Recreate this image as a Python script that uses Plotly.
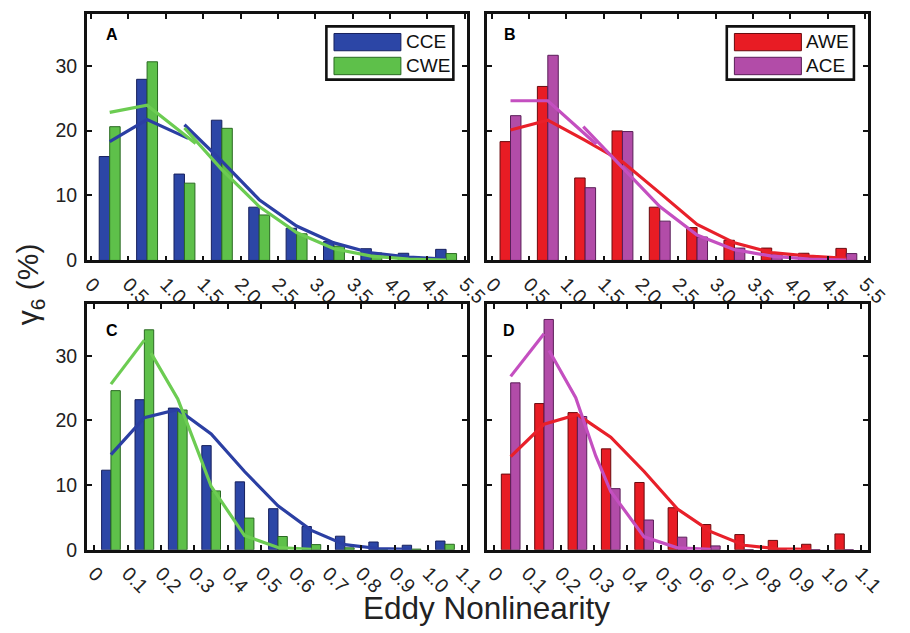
import plotly.graph_objects as go

# ---------------------------------------------------------------- data
# Tick labels at the bin edges (index 0..n)
ab_tick_labels = ["0", "0.5", "1.0", "1.5", "2.0", "2.5", "3.0", "3.5", "4.0", "4.5", "5.5"]
cd_tick_labels = ["0", "0.1", "0.2", "0.3", "0.4", "0.5", "0.6", "0.7", "0.8", "0.9", "1.0", "1.1"]

# Histogram percentages per bin
cce_a = [16.0, 27.9, 13.3, 21.6, 8.2, 4.95, 2.9, 1.8, 1.1, 1.7]
cwe_a = [20.6, 30.6, 11.9, 20.35, 7.0, 4.1, 2.2, 1.15, 0.6, 1.05]
awe_b = [18.3, 26.8, 12.7, 19.95, 8.2, 5.05, 3.1, 1.9, 1.1, 1.85]
ace_b = [22.3, 31.6, 11.2, 19.85, 6.05, 3.6, 1.9, 1.15, 0.65, 1.05]
cce_c = [12.3, 23.2, 21.9, 16.1, 10.5, 6.35, 3.6, 2.1, 1.2, 0.7, 1.35]
cwe_c = [24.6, 34.0, 21.6, 9.1, 4.9, 2.05, 0.8, 0.3, 0.1, 0.1, 0.85]
awe_d = [11.7, 22.6, 21.2, 15.6, 10.4, 6.5, 3.9, 2.35, 1.45, 0.85, 2.45]
ace_d = [25.8, 35.6, 20.6, 9.45, 4.6, 1.95, 0.6, 0.0, 0.0, 0.0, 0.0]

# Fitted distribution curves (bin-index coordinate, None separates pieces)
fit_cce_a_x = [0.5, 1.5, 2.6, None, 2.5, 3.5, 4.5, 5.5, 6.5, 7.5, 8.5, 9.5]
fit_cce_a_y = [18.3, 21.7, 18.8, None, 20.9, 15.3, 9.35, 5.3, 2.7, 1.15, 0.5, 0.2]
fit_cwe_a_x = [0.5, 1.5, 2.8, None, 2.5, 3.5, 4.5, 5.5, 6.5, 7.5, 8.5, 9.5]
fit_cwe_a_y = [22.8, 23.9, 18.0, None, 20.4, 14.0, 8.3, 4.3, 1.8, 0.65, 0.2, 0.05]
fit_awe_b_x = [0.5, 1.5, 2.5, 3.5, 4.5, 5.5, 6.5, 7.5, 8.5, 9.5]
fit_awe_b_y = [20.1, 21.6, 18.5, 15.2, 10.4, 5.55, 2.7, 1.2, 0.65, 0.3]
fit_ace_b_x = [0.5, 1.5, 2.8, None, 2.45, 3.5, 4.5, 5.5, 6.5, 7.5, 8.5, 9.5]
fit_ace_b_y = [24.6, 24.6, 17.9, None, 20.6, 14.3, 8.3, 3.9, 1.65, 0.65, 0.2, 0.05]
fit_cce_c_x = [0.5, 1.5, 2.5, 3.5, 4.5, 5.5, 6.5, 7.5, 8.5, 9.5]
fit_cce_c_y = [14.7, 20.4, 21.7, 17.9, 12.1, 6.8, 3.0, 0.8, 0.2, 0.05]
fit_cwe_c_x = [0.5, 1.5, None, 1.7, 2.5, 3.15, 3.5, 4.5, 5.5, 6.5]
fit_cwe_c_y = [25.6, 32.4, None, 30.4, 23.3, 14.6, 9.8, 2.2, 0.35, 0.05]
fit_awe_d_x = [0.5, 1.5, 2.5, 3.5, 4.5, 5.5, 6.5, 7.5, 8.5, 9.5]
fit_awe_d_y = [14.4, 19.4, 20.9, 17.4, 12.1, 6.3, 2.8, 0.7, 0.15, 0.05]
fit_ace_d_x = [0.5, 1.5, None, 1.65, 2.45, 3.05, 3.5, 4.5, 5.5, 6.5]
fit_ace_d_y = [26.8, 33.4, None, 30.8, 23.5, 14.5, 9.0, 2.0, 0.3, 0.05]

y_ticks = [0, 10, 20, 30]

# ---------------------------------------------------------------- styles
BLUE, BLUE_EDGE, BLUE_LINE = "#2c46a6", "#17215e", "#2b3fa3"
GREEN, GREEN_EDGE, GREEN_LINE = "#5ec04a", "#2a6a22", "#6ccc52"
RED, RED_EDGE, RED_LINE = "#e81c24", "#6a0a0e", "#e8202a"
PURPLE, PURPLE_EDGE, PURPLE_LINE = "#b24ca8", "#5a1e58", "#c44fc0"

FONT = "Liberation Sans, Arial, Helvetica, sans-serif"
W, H = 910, 633


def fx(px):
    return px / W


def fy(py):
    return 1 - py / H


panels = [
    dict(ax="", letter="A", labels=ab_tick_labels, xrange=[-0.11, 10.06],
         dom_x=[84.5, 476.7], dom_y=[14, 265], show_y=True,
         series=[("CCE", cce_a, BLUE, BLUE_EDGE), ("CWE", cwe_a, GREEN, GREEN_EDGE)],
         fits=[(fit_cce_a_x, fit_cce_a_y, BLUE_LINE), (fit_cwe_a_x, fit_cwe_a_y, GREEN_LINE)],
         legend=True, letter_pos=(0.044, 0.916)),
    dict(ax="2", letter="B", labels=ab_tick_labels, xrange=[-0.13, 10.07],
         dom_x=[497.3, 890], dom_y=[14, 265], show_y=False,
         series=[("AWE", awe_b, RED, RED_EDGE), ("ACE", ace_b, PURPLE, PURPLE_EDGE)],
         fits=[(fit_awe_b_x, fit_awe_b_y, RED_LINE), (fit_ace_b_x, fit_ace_b_y, PURPLE_LINE)],
         legend=True, letter_pos=(0.039, 0.916)),
    dict(ax="3", letter="C", labels=cd_tick_labels, xrange=[-0.22, 11.16],
         dom_x=[84.5, 476.7], dom_y=[309.3, 559.5], show_y=True,
         series=[("CCE", cce_c, BLUE, BLUE_EDGE), ("CWE", cwe_c, GREEN, GREEN_EDGE)],
         fits=[(fit_cce_c_x, fit_cce_c_y, BLUE_LINE), (fit_cwe_c_x, fit_cwe_c_y, GREEN_LINE)],
         legend=False, letter_pos=(0.046, 0.893)),
    dict(ax="4", letter="D", labels=cd_tick_labels, xrange=[-0.21, 11.2],
         dom_x=[497.3, 890], dom_y=[309.3, 559.5], show_y=False,
         series=[("AWE", awe_d, RED, RED_EDGE), ("ACE", ace_d, PURPLE, PURPLE_EDGE)],
         fits=[(fit_awe_d_x, fit_awe_d_y, RED_LINE), (fit_ace_d_x, fit_ace_d_y, PURPLE_LINE)],
         legend=False, letter_pos=(0.037, 0.893)),
]

BAR_W = 0.28

fig = go.Figure()
shapes = []
annotations = []
layout_axes = {}

for p in panels:
    xa, ya = "x" + p["ax"], "y" + p["ax"]
    for k, (name, vals, fill, edge) in enumerate(p["series"]):
        fig.add_trace(go.Bar(
            x=[i + 0.5 for i in range(len(vals))], y=vals, name=name,
            width=BAR_W, offset=-BAR_W if k == 0 else 0.0,
            marker=dict(color=fill, line=dict(color=edge, width=1)),
            xaxis=xa, yaxis=ya, showlegend=False))
    for fxs, fys, col in p["fits"]:
        fig.add_trace(go.Scatter(
            x=fxs, y=fys, mode="lines", line=dict(color=col, width=3.2),
            connectgaps=False, xaxis=xa, yaxis=ya, showlegend=False))

    common = dict(showline=True, linewidth=2.6, linecolor="#111111", mirror="ticks",
                  ticks="inside", ticklen=5, tickwidth=2, tickcolor="#111111",
                  showgrid=False, zeroline=False,
                  tickfont=dict(family=FONT, size=19.5, color="#222222"))
    layout_axes["xaxis" + p["ax"]] = dict(
        common, domain=[fx(p["dom_x"][0]), fx(p["dom_x"][1])], range=p["xrange"],
        anchor=ya, tickvals=list(range(len(p["labels"]))), ticktext=p["labels"],
        tickangle=45, ticklabelstandoff=2)
    layout_axes["yaxis" + p["ax"]] = dict(
        common, domain=[fy(p["dom_y"][1]), fy(p["dom_y"][0])], range=[0, 38],
        anchor=xa, tickvals=y_ticks, showticklabels=p["show_y"], ticklabelstandoff=3)

    xd, yd = xa + " domain", ya + " domain"
    annotations.append(dict(
        text="<b>" + p["letter"] + "</b>", x=p["letter_pos"][0], y=p["letter_pos"][1],
        xref=xd, yref=yd, xanchor="left", yanchor="middle", showarrow=False,
        font=dict(family=FONT, size=16, color="#000000")))

    if p["legend"]:
        shapes.append(dict(type="rect", xref=xd, yref=yd, x0=0.630, x1=0.964,
                           y0=0.733, y1=0.949, fillcolor="white",
                           line=dict(color="#111111", width=2.6), layer="above"))
        rows = [(0.850, 0.920, 0.886), (0.753, 0.8235, 0.789)]
        for (name, vals, fill, edge), (y0, y1, yt) in zip(p["series"], rows):
            shapes.append(dict(type="rect", xref=xd, yref=yd, x0=0.650, x1=0.826,
                               y0=y0, y1=y1, fillcolor=fill,
                               line=dict(color=edge, width=1), layer="above"))
            annotations.append(dict(
                text=name, x=0.834, y=yt, xref=xd, yref=yd, xanchor="left",
                yanchor="middle", showarrow=False,
                font=dict(family=FONT, size=19, color="#111111")))

annotations.append(dict(
    text="γ<sub>6</sub> (%)", x=fx(26), y=fy(289), xref="paper", yref="paper",
    textangle=-90, showarrow=False, xanchor="center", yanchor="middle",
    font=dict(family=FONT, size=30, color="#222222")))
annotations.append(dict(
    text="Eddy Nonlinearity", x=fx(497), y=fy(619), xref="paper", yref="paper",
    showarrow=False, xanchor="center", yanchor="middle",
    font=dict(family=FONT, size=31.5, color="#222222")))

fig.update_layout(
    width=W, height=H, margin=dict(l=0, r=0, t=0, b=0),
    paper_bgcolor="white", plot_bgcolor="white",
    barmode="overlay", showlegend=False,
    shapes=shapes, annotations=annotations, **layout_axes)

fig.write_html("out.html")
